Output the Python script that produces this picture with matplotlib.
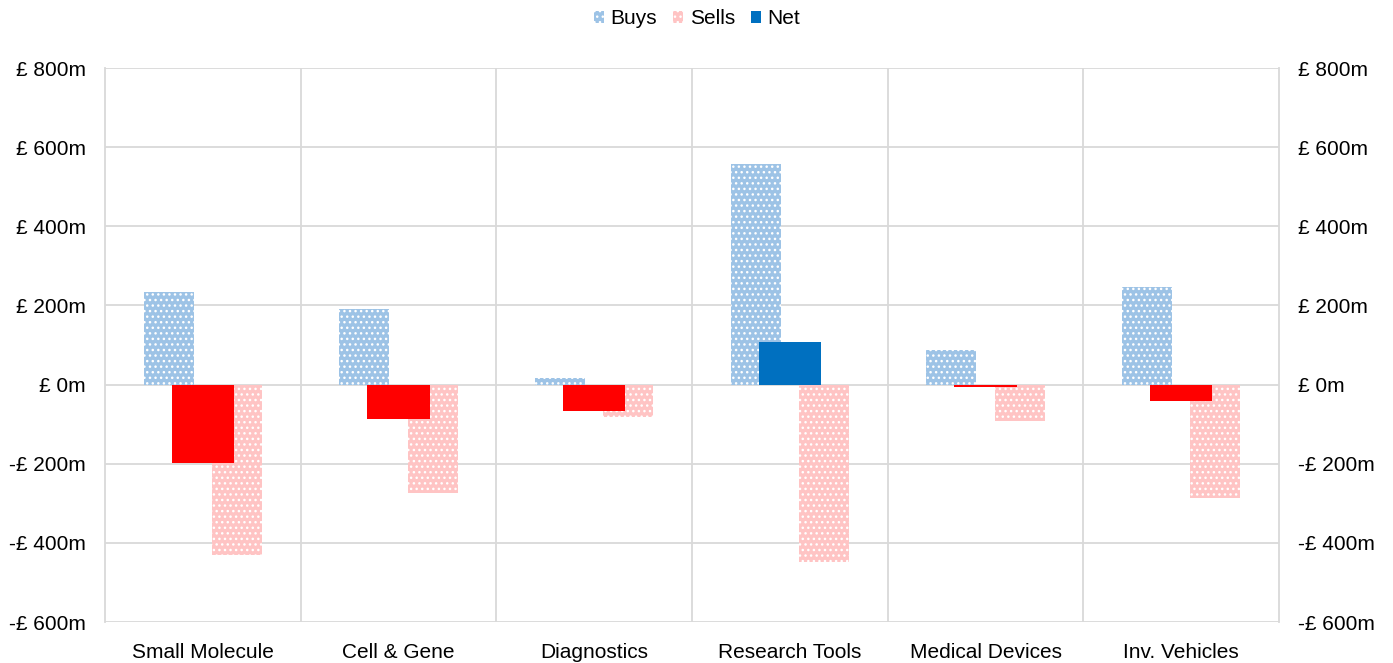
import matplotlib
matplotlib.use("Agg")
import matplotlib.pyplot as plt
from matplotlib.patches import Patch
import numpy as np

plt.rcParams['font.family'] = ['Liberation Sans', 'DejaVu Sans']
plt.rcParams['hatch.linewidth'] = 1.0

categories = ["Small Molecule", "Cell & Gene", "Diagnostics", "Research Tools",
              "Medical Devices", "Inv. Vehicles"]
buys = [234, 191, 17, 557, 87, 247]
sells = [-431, -274, -82, -449, -92, -286]
net = [-198, -87, -67, 108, -6, -42]
yticks = [-600, -400, -200, 0, 200, 400, 600, 800]

buy_color = "#9DC3E6"
sell_color = "#FFC4C4"
net_pos = "#0070C0"
net_neg = "#FF0000"
grid_color = "#D9D9D9"
fs = 15


def money(v):
    return f"£ {v}m" if v >= 0 else f"-£ {abs(v)}m"


fig = plt.figure(figsize=(13.93, 6.63), dpi=100)
ax = fig.add_axes([105 / 1393, 1 - 622 / 663, (1279 - 105) / 1393, (622 - 68) / 663])

x = np.arange(len(categories))
side_w = 0.256
net_w = 0.317
off = 0.175

ax.bar(x - off, buys, width=side_w, color=buy_color, edgecolor="white",
       linewidth=0, hatch="...", zorder=2, label="Buys")
ax.bar(x + off, sells, width=side_w, color=sell_color, edgecolor="white",
       linewidth=0, hatch="...", zorder=2, label="Sells")
net_colors = [net_pos if v >= 0 else net_neg for v in net]
ax.bar(x, net, width=net_w, color=net_colors, linewidth=0, zorder=3)

ax.set_xlim(-0.5, len(categories) - 0.5)
ax.set_ylim(-600, 800)
ax.set_yticks(yticks)
ax.set_yticklabels([money(v) for v in yticks])
ax.set_xticks(x)
ax.set_xticklabels(categories)
ax.tick_params(axis="both", length=0, labelsize=fs, colors="black")
ax.tick_params(axis="y", pad=14)
ax.tick_params(axis="x", pad=15)

for v in yticks:
    ax.axhline(v, color=grid_color, lw=1.3, zorder=1)
for b in np.arange(0.5, len(categories) - 1, 1.0):
    ax.axvline(b, color=grid_color, lw=1.3, zorder=1)
for s in ax.spines.values():
    s.set_color(grid_color)
    s.set_linewidth(1.3)
ax.spines["top"].set_visible(False)
ax.spines["bottom"].set_visible(False)

ax2 = ax.twinx()
ax2.set_ylim(ax.get_ylim())
ax2.set_yticks(yticks)
ax2.set_yticklabels([money(v) for v in yticks])
ax2.tick_params(axis="y", length=0, labelsize=fs, pad=14)
for s in ax2.spines.values():
    s.set_visible(False)

handles = [
    Patch(facecolor=buy_color, edgecolor="white", linewidth=0, hatch="..."),
    Patch(facecolor=sell_color, edgecolor="white", linewidth=0, hatch="..."),
    Patch(facecolor=net_pos, linewidth=0),
]
fig.legend(handles, ["Buys", "Sells", "Net"], loc="center",
           bbox_to_anchor=(697 / 1393, 1 - 19 / 663), ncol=3, frameon=False,
           fontsize=fs, handlelength=0.5, handleheight=0.5,
           handletextpad=0.3, columnspacing=0.75, borderpad=0)

fig.savefig("out.png", dpi=100)
